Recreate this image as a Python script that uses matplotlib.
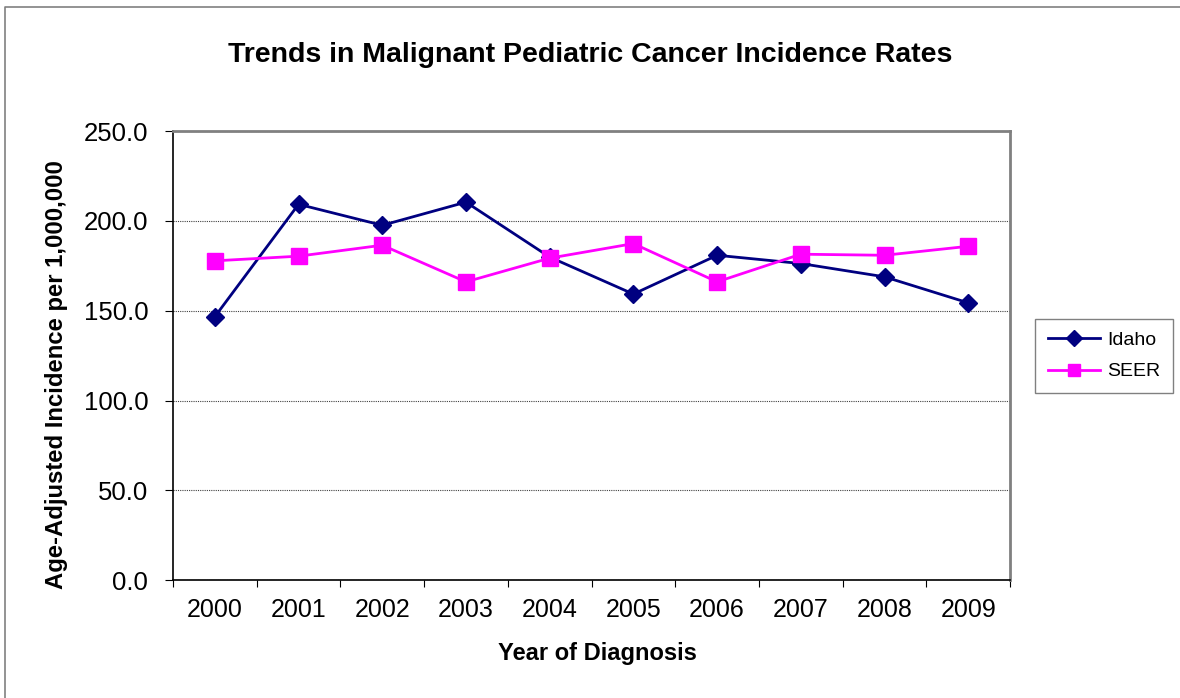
import matplotlib.pyplot as plt
import numpy as np
from matplotlib.lines import Line2D

plt.rcParams['font.family'] = ['Liberation Sans', 'DejaVu Sans']

years = ['2000', '2001', '2002', '2003', '2004', '2005', '2006', '2007', '2008', '2009']
idaho = [146.7, 209.3, 197.6, 210.5, 179.9, 159.3, 180.9, 176.3, 168.9, 154.4]
seer = [177.8, 180.4, 186.5, 166.1, 179.3, 187.4, 166.1, 181.5, 180.9, 185.9]

fig = plt.figure(figsize=(11.8, 6.98), dpi=100)
ax = fig.add_axes([0.1466, 0.169, 0.7094, 0.643])

# outer chart border (only top and left edges visible in the original)
fig.lines.append(Line2D([5/1180, 5/1180, 1], [0, 1 - 7/698, 1 - 7/698], transform=fig.transFigure,
                        color='#808080', linewidth=1.2))

x = np.arange(len(years))
ax.plot(x, idaho, color='#000080', linewidth=2, marker='D', markersize=9, label='Idaho')
ax.plot(x, seer, color='#FF00FF', linewidth=2, marker='s', markersize=11, label='SEER')

ax.set_xlim(-0.5, len(years) - 0.5)
ax.set_ylim(0, 250)
ax.set_yticks(np.arange(0, 251, 50))
ax.set_yticklabels([f'{v:.1f}' for v in np.arange(0, 251, 50)])
ax.yaxis.grid(True, linestyle=(0, (1, 1)), color='#404040', linewidth=0.8)

ax.set_xticks(np.arange(-0.5, len(years), 1))
ax.set_xticklabels([])
ax.set_xticks(x, minor=True)
ax.set_xticklabels(years, minor=True)
ax.tick_params(axis='x', which='minor', length=0, pad=13, labelsize=18)
ax.tick_params(axis='x', which='major', length=5, direction='out', color='black')
ax.tick_params(axis='y', length=5.8, direction='out', labelsize=18.5, pad=12)

for s in ['top', 'right']:
    ax.spines[s].set_color('#808080')
    ax.spines[s].set_linewidth(2)
for s in ['left', 'bottom']:
    ax.spines[s].set_color('black')
    ax.spines[s].set_linewidth(1.2)

fig.text(0.5, 1 - 55/698, 'Trends in Malignant Pediatric Cancer Incidence Rates', fontsize=20.5,
         fontweight='bold', ha='center', va='center')
ax.set_xlabel('Year of Diagnosis', fontsize=17, fontweight='bold', va='center')
ax.xaxis.set_label_coords(0.5 + (597 - 591)/837, (580 - 653)/449)
ax.set_ylabel('Age-Adjusted Incidence per 1,000,000', fontsize=17.2, fontweight='bold', va='center')
ax.yaxis.set_label_coords((57 - 173)/837, (580 - 374)/449)

leg = ax.legend(loc='upper left', bbox_to_anchor=(1035/1180, 1 - 319/698),
                bbox_transform=fig.transFigure, fontsize=14, frameon=True, fancybox=False,
                borderpad=0.65, borderaxespad=0, handlelength=2.7, handletextpad=0.35,
                labelspacing=0.7, markerscale=0.85)
leg.get_frame().set_edgecolor('#606060')
leg.get_frame().set_linewidth(1)

fig.savefig('out.png', dpi=100)
